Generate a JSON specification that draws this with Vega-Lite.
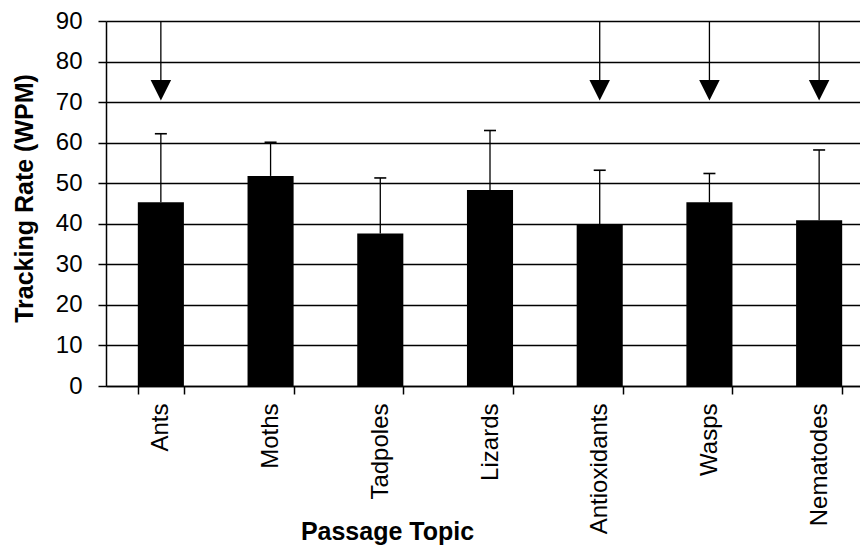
{
  "$schema": "https://vega.github.io/schema/vega-lite/v6.json",
  "autosize": {"type": "none"},
  "padding": {"left": 106, "top": 21, "right": 0, "bottom": 162},
  "width": 754,
  "height": 365,
  "background": "white",
  "config": {
    "font": "Liberation Sans",
    "view": {"stroke": null},
    "axis": {"labelColor": "black", "titleColor": "black", "domainColor": "black", "tickColor": "black", "labelFont": "Liberation Sans", "titleFont": "Liberation Sans"}
  },
  "datasets": {
    "bars": [
      {"topic": "Ants", "rate": 45.3, "upper": 62.2},
      {"topic": "Moths", "rate": 51.8, "upper": 60.1},
      {"topic": "Tadpoles", "rate": 37.6, "upper": 51.3},
      {"topic": "Lizards", "rate": 48.3, "upper": 63.0},
      {"topic": "Antioxidants", "rate": 39.9, "upper": 53.2},
      {"topic": "Wasps", "rate": 45.3, "upper": 52.4},
      {"topic": "Nematodes", "rate": 40.9, "upper": 58.2}
    ],
    "arrows": [
      {"topic": "Ants", "start": 90, "end": 73, "head": 72.9},
      {"topic": "Antioxidants", "start": 90, "end": 73, "head": 72.9},
      {"topic": "Wasps", "start": 90, "end": 73, "head": 72.9},
      {"topic": "Nematodes", "start": 90, "end": 73, "head": 72.9}
    ]
  },
  "encoding": {
    "x": {
      "field": "topic",
      "type": "nominal",
      "sort": ["Ants", "Moths", "Tadpoles", "Lizards", "Antioxidants", "Wasps", "Nematodes"],
      "scale": {"range": [0, 768], "paddingInner": 0.58, "paddingOuter": 0.29},
      "axis": {
        "title": "Passage Topic",
        "titleFontSize": 25,
        "titleFontWeight": "bold",
        "titleX": 281,
        "titleY": 153,
        "titleAlign": "center",
        "titleBaseline": "alphabetic",
        "labelAngle": -90,
        "labelFontSize": 24,
        "labelPadding": 9,
        "tickSize": 8,
        "tickWidth": 1.5,
        "tickBand": "extent",
        "domainWidth": 1.5,
        "grid": false
      }
    }
  },
  "layer": [
    {
      "data": {"name": "bars"},
      "mark": {"type": "bar", "color": "black"},
      "encoding": {
        "y": {
          "field": "rate",
          "type": "quantitative",
          "scale": {"domain": [0, 90], "nice": false},
          "axis": {
            "title": "Tracking Rate (WPM)",
            "titleFontSize": 25,
            "titleFontWeight": "bold",
            "titleX": -74,
            "titleY": 177,
            "titleAngle": -90,
            "titleAlign": "center",
            "titleBaseline": "alphabetic",
            "values": [0, 10, 20, 30, 40, 50, 60, 70, 80, 90],
            "labelFontSize": 24,
            "labelPadding": 16,
            "tickSize": 8,
            "tickWidth": 1.5,
            "domainWidth": 1.5,
            "grid": true,
            "gridColor": "black",
            "gridWidth": 1.6,
            "gridOpacity": 1
          }
        }
      }
    },
    {
      "data": {"name": "bars"},
      "mark": {"type": "rule", "color": "black", "strokeWidth": 1.3},
      "encoding": {
        "y": {"field": "rate", "type": "quantitative"},
        "y2": {"field": "upper"}
      }
    },
    {
      "data": {"name": "bars"},
      "mark": {"type": "tick", "color": "black", "thickness": 1.6, "size": 12, "opacity": 1},
      "encoding": {
        "y": {"field": "upper", "type": "quantitative"}
      }
    },
    {
      "data": {"name": "arrows"},
      "mark": {"type": "rule", "color": "black", "strokeWidth": 1.3},
      "encoding": {
        "y": {"field": "start", "type": "quantitative"},
        "y2": {"field": "end"}
      }
    },
    {
      "data": {"name": "arrows"},
      "mark": {"type": "point", "shape": "M-1,-1L1,-1L0,1Z", "filled": true, "color": "black", "size": 420, "opacity": 1},
      "encoding": {
        "y": {"field": "head", "type": "quantitative"}
      }
    }
  ]
}
